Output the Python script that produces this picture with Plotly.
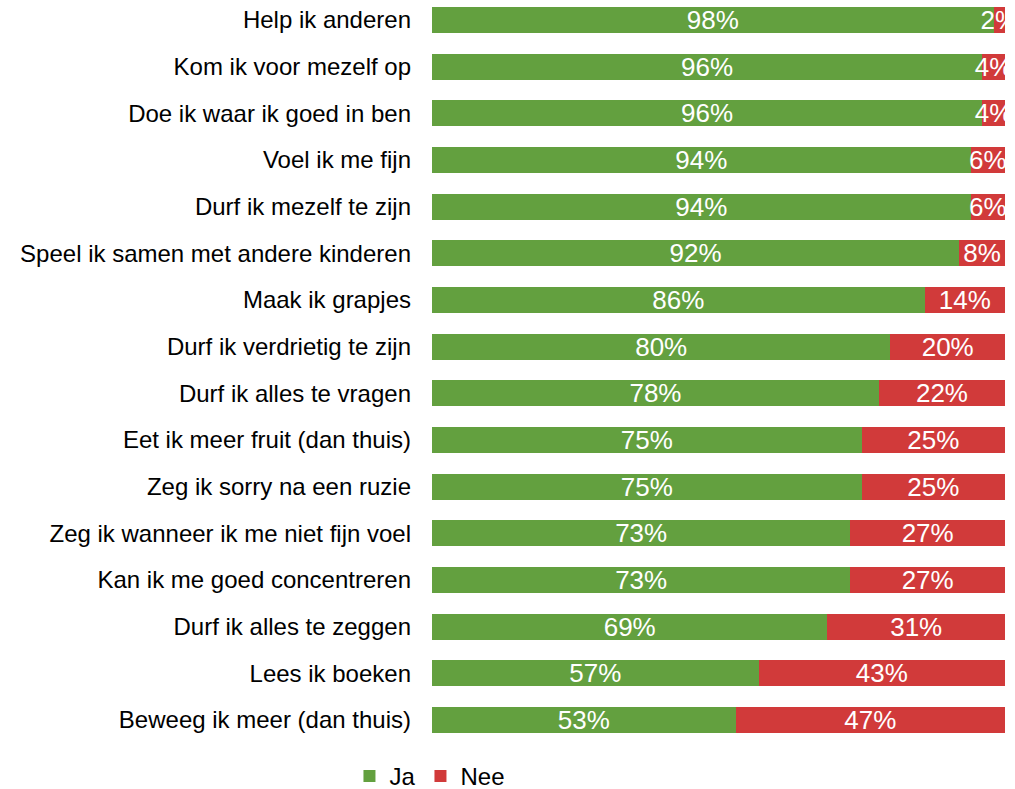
import plotly.graph_objects as go

# data (top to bottom as shown)
labels = [
    "Help ik anderen",
    "Kom ik voor mezelf op",
    "Doe ik waar ik goed in ben",
    "Voel ik me fijn",
    "Durf ik mezelf te zijn",
    "Speel ik samen met andere kinderen",
    "Maak ik grapjes",
    "Durf ik verdrietig te zijn",
    "Durf ik alles te vragen",
    "Eet ik meer fruit (dan thuis)",
    "Zeg ik sorry na een ruzie",
    "Zeg ik wanneer ik me niet fijn voel",
    "Kan ik me goed concentreren",
    "Durf ik alles te zeggen",
    "Lees ik boeken",
    "Beweeg ik meer (dan thuis)",
]
ja = [98, 96, 96, 94, 94, 92, 86, 80, 78, 75, 75, 73, 73, 69, 57, 53]
nee = [2, 4, 4, 6, 6, 8, 14, 20, 22, 25, 25, 27, 27, 31, 43, 47]

green = "#63A03F"
red = "#D13A3A"
font = "Liberation Sans, Arial, sans-serif"

# plotly draws the first category at the bottom, so reverse
y = labels[::-1]

fig = go.Figure()
for name, vals, col in [("Ja", ja, green), ("Nee", nee, red)]:
    fig.add_trace(go.Bar(
        y=y, x=vals[::-1], name=name, orientation="h",
        marker=dict(color=col, line=dict(width=0)),
        text=[f"{v}%" for v in vals[::-1]],
        textposition="inside", insidetextanchor="middle", textangle=0,
        textfont=dict(color="white", size=26, family=font),
        cliponaxis=True, hoverinfo="skip",
    ))

fig.update_layout(
    barmode="stack",
    bargap=0.443,
    width=1015, height=789,
    margin=dict(l=432, r=10, t=0, b=46, autoexpand=False),
    plot_bgcolor="white", paper_bgcolor="white",
    font=dict(family=font, size=24, color="#000000"),
    uniformtext=dict(mode="show", minsize=26),
    showlegend=True,
    legend=dict(
        orientation="h", xref="container", yref="container",
        x=0.3443, xanchor="left", y=0.0444, yanchor="top",
        font=dict(size=24, color="#000000"),
        itemwidth=30, traceorder="normal",
    ),
    xaxis=dict(range=[0, 100], visible=False, fixedrange=True),
    yaxis=dict(
        range=[-0.492, 15.4286], showgrid=False, zeroline=False, showline=False,
        ticks="", ticklabelstandoff=20, fixedrange=True,
        tickfont=dict(size=24, color="#000000"),
    ),
)

# drop the page's default body margin so the figure fills the window
fig.write_html("out.html", config={"displayModeBar": False},
               post_script="document.body.style.margin='0px';")
